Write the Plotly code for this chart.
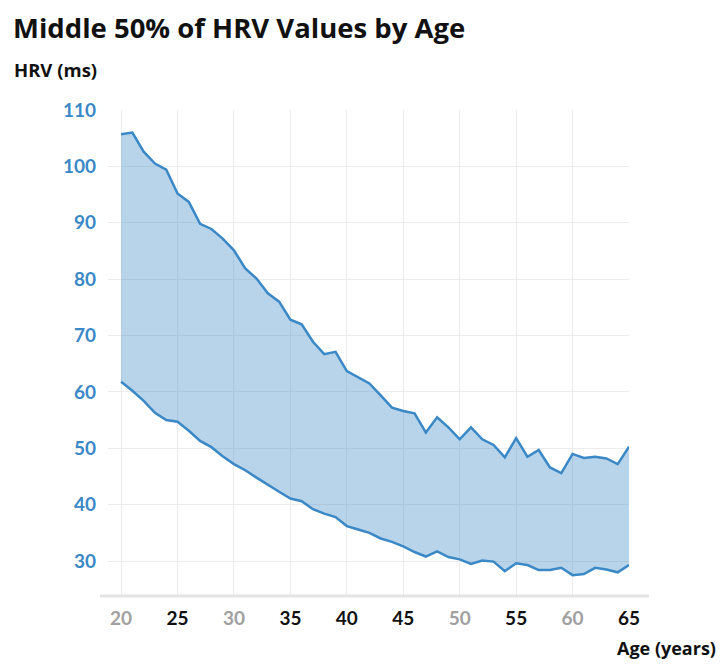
import plotly.graph_objects as go

ages = list(range(20, 66))
upper_hrv = [105.7, 106.0, 102.6, 100.5, 99.4, 95.2, 93.7, 89.8, 88.9, 87.2,
             85.1, 81.9, 80.1, 77.5, 76.0, 72.8, 72.0, 68.9, 66.7, 67.1,
             63.7, 62.6, 61.5, 59.4, 57.2, 56.6, 56.2, 52.8, 55.5, 53.7,
             51.6, 53.7, 51.6, 50.6, 48.4, 51.8, 48.5, 49.7, 46.6, 45.6,
             49.0, 48.3, 48.5, 48.2, 47.2, 50.3]
lower_hrv = [61.8, 60.2, 58.4, 56.3, 55.0, 54.7, 53.1, 51.3, 50.2, 48.6,
             47.2, 46.1, 44.8, 43.5, 42.3, 41.1, 40.6, 39.2, 38.4, 37.8,
             36.2, 35.6, 35.0, 34.0, 33.4, 32.6, 31.6, 30.8, 31.7, 30.7,
             30.3, 29.5, 30.1, 29.9, 28.2, 29.6, 29.3, 28.4, 28.4, 28.8,
             27.5, 27.7, 28.8, 28.5, 28.0, 29.3]

x_ticks = [20, 25, 30, 35, 40, 45, 50, 55, 60, 65]
x_tick_colors = ["#a0a0a0", "#111111", "#a0a0a0", "#111111", "#111111",
                 "#111111", "#a0a0a0", "#111111", "#a0a0a0", "#111111"]
y_ticks = [30, 40, 50, 60, 70, 80, 90, 100, 110]

LINE = "#3a88c6"
FILL = "rgba(58,135,200,0.36)"
FONT = "Lato"
TITLE_FONT = "Open Sans"

# page has an 8px body margin, so the figure is 8px smaller and offset
W, H = 716, 657
L, R, T, B = 100, 95.3, 102, 69
PW = W - L - R
PH = H - T - B

fig = go.Figure()
fig.add_trace(go.Scatter(x=ages, y=lower_hrv, mode="lines",
                         line=dict(color=LINE, width=2.5), hoverinfo="skip",
                         showlegend=False))
fig.add_trace(go.Scatter(x=ages, y=upper_hrv, mode="lines", fill="tonexty",
                         fillcolor=FILL, line=dict(color=LINE, width=2.5),
                         hoverinfo="skip", showlegend=False))

ticktext = [f'<span style="color:{c}">{t}</span>' for t, c in zip(x_ticks, x_tick_colors)]

fig.update_layout(
    width=W, height=H,
    margin=dict(l=L, r=R, t=T, b=B, autoexpand=False),
    paper_bgcolor="white", plot_bgcolor="white",
    font=dict(family=FONT, color="#111111"),
    xaxis=dict(range=[18.84, 65], tickvals=x_ticks, ticktext=ticktext,
               showgrid=True, gridcolor="#ececec", gridwidth=1,
               zeroline=False, showline=False, ticks="",
               tickfont=dict(family=FONT, size=19, weight="bold"),
               ticklabelstandoff=9, fixedrange=True),
    yaxis=dict(range=[23.8, 110], tickvals=y_ticks,
               showgrid=True, gridcolor="#ececec", gridwidth=1,
               zeroline=False, showline=False, ticks="",
               tickfont=dict(family=FONT, size=19, color="#3a88c6", weight="bold"),
               ticklabelstandoff=11, fixedrange=True),
    shapes=[dict(type="line", xref="paper", yref="paper",
                 x0=-8 / PW, x1=20 / PW + 1, y0=0, y1=0,
                 line=dict(color="#e4e4e4", width=3))],
    annotations=[
        dict(text="<b>Middle 50% of HRV Values by Age</b>", xref="paper", yref="paper",
             x=-96 / PW, y=1 + 83 / PH, xanchor="left", yanchor="middle",
             showarrow=False, borderpad=0,
             font=dict(family=TITLE_FONT, size=27.5, color="#111111")),
        dict(text="<b>HRV (ms)</b>", xref="paper", yref="paper",
             x=-96 / PW, y=1 + 41 / PH, xanchor="left", yanchor="middle",
             showarrow=False, font=dict(family=TITLE_FONT, size=18.5, color="#111111")),
        dict(text="<b>Age (years)</b>", xref="paper", yref="paper",
             x=(W - 6 - L) / PW, y=-(648 - 596) / PH, xanchor="right", yanchor="middle",
             showarrow=False, font=dict(family=TITLE_FONT, size=18, color="#111111")),
    ],
)

fig.write_html("out.html")
